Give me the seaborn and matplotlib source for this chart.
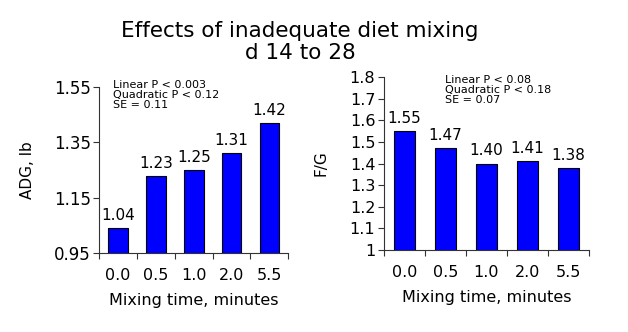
import matplotlib
matplotlib.use("Agg")
import matplotlib.pyplot as plt
import seaborn as sns
import numpy as np
import pandas as pd

categories = ["0.0", "0.5", "1.0", "2.0", "5.5"]
adg_values = [1.04, 1.23, 1.25, 1.31, 1.42]
fg_values = [1.55, 1.47, 1.40, 1.41, 1.38]
adg_ticks = [0.95, 1.15, 1.35, 1.55]
fg_ticks = [1.0, 1.1, 1.2, 1.3, 1.4, 1.5, 1.6, 1.7, 1.8]
adg_note = "Linear P < 0.003\nQuadratic P < 0.12\nSE = 0.11"
fg_note = "Linear P < 0.08\nQuadratic P < 0.18\nSE = 0.07"

sns.set_theme(style="white")
plt.rcParams['font.family'] = ['DejaVu Sans']
plt.rcParams['text.color'] = 'black'
plt.rcParams['axes.labelcolor'] = 'black'
plt.rcParams['xtick.color'] = 'black'
plt.rcParams['ytick.color'] = 'black'

fig = plt.figure(figsize=(6.28, 3.32), dpi=100)
fig.patch.set_facecolor("white")
fig.text(0.478, 0.908, "Effects of inadequate diet mixing", ha="center", va="center", fontsize=15.5)
fig.text(0.478, 0.84, "d 14 to 28", ha="center", va="center", fontsize=15.5)

ax1 = fig.add_axes([0.158, 0.238, 0.301, 0.500])
ax2 = fig.add_axes([0.611, 0.247, 0.327, 0.521])

def draw(ax, vals, ticks, fmt, ylabel, note, notex, notey, ytick_fs, ylab_x):
    df = pd.DataFrame({"cat": categories, "val": vals})
    sns.barplot(data=df, x="cat", y="val", color="#0000ff", saturation=1,
                edgecolor="black", linewidth=0.8, width=0.52, ax=ax)
    ax.set_ylim(ticks[0], ticks[-1])
    ax.set_xlim(-0.5, len(categories) - 0.5)
    ax.set_yticks(ticks)
    ax.set_yticklabels([fmt(t) for t in ticks], fontsize=ytick_fs)
    ax.set_xticks(range(len(categories)))
    ax.set_xticklabels(categories, fontsize=11.5)
    ax.set_xticks(np.arange(-0.5, len(categories), 1.0), minor=True)
    ax.tick_params(axis="x", which="major", length=0, pad=11)
    ax.tick_params(axis="x", which="minor", length=4, width=0.8, color="#333333", direction="out")
    ax.tick_params(axis="y", which="major", length=4, width=0.8, color="#333333", direction="out", pad=2)
    ax.xaxis.set_ticks_position("bottom")
    ax.yaxis.set_ticks_position("left")
    for s in ["top", "right"]:
        ax.spines[s].set_visible(False)
    for s in ["left", "bottom"]:
        ax.spines[s].set_color("#333333")
        ax.spines[s].set_linewidth(0.8)
    ax.set_xlabel("Mixing time, minutes", fontsize=11.5, labelpad=7)
    ax.set_ylabel(ylabel, fontsize=11)
    ax.yaxis.set_label_coords(ylab_x, 0.5)
    for i, v in enumerate(vals):
        ax.text(i, v + (ticks[-1] - ticks[0]) * 0.03, f"{v:.2f}", ha="center", va="bottom", fontsize=11)
    ax.text(notex, notey, note, transform=ax.transAxes, ha="left", va="top", fontsize=8, linespacing=1.0)
    ax.set_facecolor("white")

draw(ax1, adg_values, adg_ticks, lambda t: f"{t:.2f}", "ADG, lb", adg_note, 0.075, 1.04, 12, -0.34)
draw(ax2, fg_values, fg_ticks, lambda t: f"{t:g}", "F/G", fg_note, 0.3, 1.01, 11.5, -0.27)

fig.savefig("out.png", dpi=100, facecolor="white")
